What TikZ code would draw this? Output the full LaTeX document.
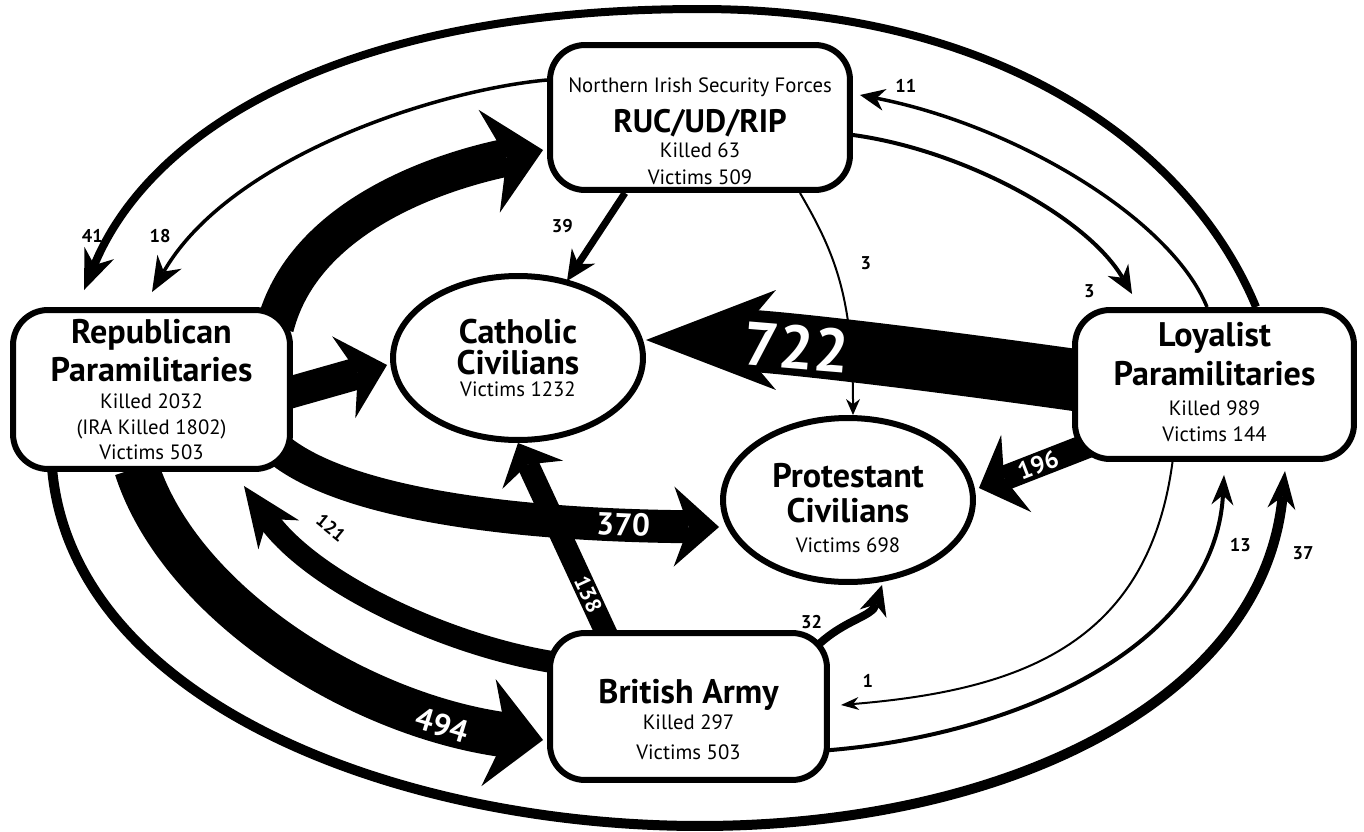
\documentclass[tikz,border=0pt]{standalone}
\usepackage{fontspec}
\setmainfont{PT Sans}
\usepackage{tikz}
\usetikzlibrary{arrows.meta, positioning, shapes.geometric, calc}
\pgfdeclarelayer{background}
\pgfsetlayers{background,main}
\newcommand{\BoxFont}{\fontsize{11.8}{22}\selectfont}
\newcommand{\GroupFont}{\fontsize{19.4}{22}\selectfont\bfseries}
\newcommand{\ForceFont}{\fontsize{18.5}{22}\selectfont\bfseries}
\newcommand{\TallyFont}{\fontsize{10.5}{12}\selectfont\bfseries}
\newcommand{\BigTally}[1]{\fontsize{#1}{#1}\selectfont\bfseries}
\tikzset{
    group/.style={draw, line width=0.12cm, rounded corners=0.7cm, fill=white, align=center, inner sep=0pt,
        font=\BoxFont},
    victims/.style={ellipse, draw, line width=0.12cm, fill=white, align=center, inner sep=0pt,
        minimum width=5cm, minimum height=3.28cm, font=\BoxFont},
    flow/.style n args={3}{line width=#1, -{Stealth[length=#2, width=#3, line width=0pt]}},
    tally/.style={font=\TallyFont, inner sep=1pt},
    inlay/.style={text=white, sloped, inner sep=0pt, font=\BigTally{#1}},
}
\begin{document}
\begin{tikzpicture}[x=0.02cm, y=-0.02cm]
    \useasboundingbox (0,0) rectangle (1364,831);

    \node[group, minimum width=5.54cm, minimum height=3.18cm] (rep) at (151.5,389.5)
        {\GroupFont Republican\\\GroupFont Paramilitaries\\[-7pt]Killed 2032\\[-6.7pt](IRA Killed 1802)\\[-7.8pt]Victims 503};
    \node[group, minimum width=6cm, minimum height=2.9cm] (ruc) at (700,117.5)
        {\rule{0pt}{23.7pt}Northern Irish Security Forces\\[1pt]\ForceFont RUC/UD/RIP\\[-8.1pt]Killed 63\\[-6.7pt]Victims 509};
    \node[group, minimum width=5.58cm, minimum height=2.98cm] (loy) at (1214.5,384.5)
        {\GroupFont Loyalist\\[0.7pt]\GroupFont Paramilitaries\\[-5.3pt]Killed 989\\[-7.3pt]Victims 144\rule[-3.5pt]{0pt}{0pt}};
    \node[group, minimum width=5.54cm, minimum height=2.94cm] (army) at (688.5,706.5)
        {\GroupFont\rule{0pt}{28.7pt}British Army\\[-7.5pt]Killed 297\\[-5pt]Victims 503};
    \node[victims] (cath) at (518,358)
        {\GroupFont Catholic\\[-4.4pt]\GroupFont Civilians\\[-9.2pt]Victims 1232};
    \node[victims] (prot) at (848,500)
        {\GroupFont\rule{0pt}{22.9pt}Protestant\\[-2.2pt]\GroupFont Civilians\\[-5.3pt]Victims 698};

    \coordinate (apex) at ($(ruc.north)+(0,-33)$);
    \coordinate (nadir) at ($(army.south)+(11.5,43)$);

    \begin{pgfonlayer}{background}
        \draw[flow={0.16cm}{0.8cm}{0.64cm}] ($(loy.north)+(41.5,0)$) .. controls +(-66,-160) and +(300,0) .. (apex)
            .. controls +(-370,0) and +(63,-153) .. ($(rep.north west)+(74,-17)$)
            node[tally, pos=.88, left=2pt] (n41) {41};
        \draw[flow={0.2cm}{0.76cm}{0.56cm}] ($(rep.south west)+(42,-4)$) .. controls +(20,235) and +(-300,0) .. (nadir)
            .. controls +(300,0) and +(-22,232) .. ($(loy.south east)+(-72,9)$)
            node[tally, pos=.875, right=0.4cm] (n37) {37};
        \draw[flow={0.07cm}{0.7cm}{0.56cm}] ($(ruc.west)+(0,-37.5)$) .. controls +(-110,10) and +(78,-135) .. ($(rep.north)+(0.5,-15)$)
            node[tally, pos=.85, left=0.42cm] (n18) {18};
        \draw[flow={0.07cm}{0.5cm}{0.44cm}] ($(loy.north)+(-7.5,0)$) .. controls +(-37,-90) and +(153,30) .. ($(ruc.east)+(7,-22.5)$)
            node[tally, pos=.9, above=0.2cm] (n11) {11};
        \draw[flow={0.08cm}{0.56cm}{0.48cm}] ($(ruc.east)+(0,17.5)$) .. controls +(110,15) and +(-45,-77) .. ($(loy.north west)+(60,-13)$)
            node[tally, pos=.9, below left=0.2cm and 0.36cm] (n3a) {3};
        \draw[flow={0.08cm}{0.6cm}{0.44cm}] ($(army.east)+(-5,44)$) .. controls +(198,-15.5) and +(-9,168) .. ($(loy.south)+(9.5,13)$)
            node[tally, pos=.85, right=0.36cm] (n13) {13};
        \draw[flow={0.04cm}{0.36cm}{0.26cm}] ($(loy.south)+(-41.5,-4)$) .. controls +(-23,185) and +(182,-15) .. ($(army.east)+(11,-1.5)$)
            node[tally, pos=.95, above=0.24cm] (n1) {1};
        \draw[flow={0.04cm}{0.32cm}{0.28cm}] ($(ruc.south)+(100,0)$) .. controls +(35,60) and +(0,-118) .. ($(prot.north)+(5,0)$)
            node[tally, pos=.4, right=0.48cm] (n3b) {3};
        \draw[flow={0.14cm}{0.6cm}{0.56cm}] ($(ruc.south)+(-75,0)$) -- ($(cath.north)+(49,8)$)
            node[tally, pos=.38, left=0.5cm] (n39) {39};
        \draw[flow={0.16cm}{0.6cm}{0.56cm}] ($(army.north east)+(-12,15)$) .. controls +(28,-26) and +(-10,32) .. ($(prot.south)+(34,0)$)
            node[tally, pos=.4, left=0.44cm] (n32) {32};
        \draw[flow={0.76cm}{1.1cm}{2.1cm}] ($(rep.north east)+(-18,20)$) .. controls +(28,-110) and +(-106,22) .. ($(ruc.west)+(-4,32.5)$);
        \draw[flow={0.64cm}{0.9cm}{1.7cm}] ($(rep.east)+(-10,5)$) -- ($(cath.west)+(-3,7)$);
        \draw[flow={0.66cm}{0.9cm}{1.6cm}] ($(rep.east)+(-20,55)$) .. controls +(60,55.5) and +(-222,-2) .. ($(prot.west)+(-1,27)$)
            node[inlay=18, pos=.85] (n370) {370};
        \draw[flow={0.44cm}{0.7cm}{1.34cm}] ($(army.north)+(-80.5,7)$) -- (cath.south)
            node[inlay=12.5, pos=.22] (n138) {138};
        \draw[flow={0.44cm}{1.2cm}{1.0cm}] ($(army.west)+(5,-44.5)$) .. controls +(-105,-17) and +(69,97) .. ($(rep.south east)+(-49,14)$)
            node[tally, sloped, pos=.74, above=0.3cm] (n121) {121};
        \draw[flow={0.9cm}{1.1cm}{2.16cm}] ($(rep.south)+(-15,-4)$) .. controls +(43.5,135) and +(-186,-25) .. ($(army.west)+(-4,33.5)$)
            node[inlay=18, pos=.82, yshift=-4pt] (n494) {494};
        \draw[flow={1.24cm}{2.6cm}{2.0cm}] ($(loy.west)+(10,-3.5)$) .. controls +(-185,-26) and +(117,0) .. ($(cath.east)+(0,-18)$)
            node[inlay=35, pos=.6] (n722) {722};
        \draw[flow={0.5cm}{0.8cm}{1.66cm}] ($(loy.south west)+(25,-20)$) -- ($(prot.east)+(3,-12)$)
            node[inlay=14, pos=.5] (n196) {196};
    \end{pgfonlayer}
\end{tikzpicture}
\end{document}
